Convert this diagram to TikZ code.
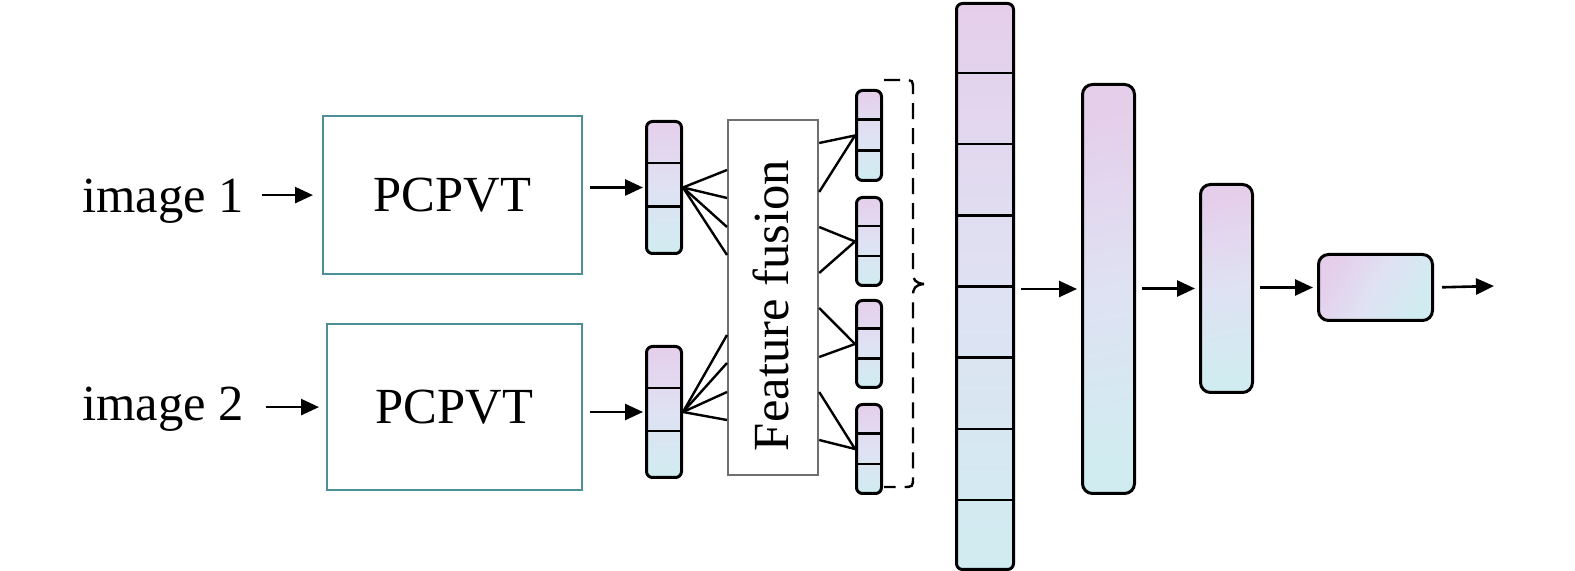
\documentclass[tikz,border=0pt]{standalone}
\usepackage{fontspec}
\setmainfont{Liberation Serif}
\usetikzlibrary{arrows.meta,calc}
\definecolor{pinkc}{RGB}{229,206,234}
\definecolor{midc}{RGB}{223,226,243}
\definecolor{cyanc}{RGB}{208,236,241}
\definecolor{tealc}{RGB}{78,142,150}
\definecolor{grayc}{RGB}{110,110,115}
\newcommand{\cellbar}[6]{%
  \node[vec, anchor=north west, minimum width=#4*0.5pt, minimum height=#5*0.5pt] (#1) at (#2,#3) {};
  \foreach \f in {#6} \draw[divl] ($(#1.north west)!\f!(#1.south west)$) -- ($(#1.north east)!\f!(#1.south east)$);
}
\begin{document}
\begin{tikzpicture}[x=0.5pt,y=-0.5pt,
  font=\fontsize{25.3}{30}\selectfont,
  vec/.style={draw=black, line width=1.5pt, rounded corners=3pt, inner sep=0pt,
    top color=pinkc, bottom color=cyanc, middle color=midc},
  bigvec/.style={vec, rounded corners=5pt, shading angle=12},
  divl/.style={line width=1.2pt, black},
  pcbox/.style={draw=tealc, line width=1.1pt, inner sep=0pt, anchor=north west},
  ffbox/.style={draw=grayc, line width=1.1pt, inner sep=0pt, anchor=north west},
  conn/.style={line width=1.2pt, black},
  arr/.style={line width=1.3pt, -{Triangle[length=9pt,width=8pt]}},
  brk/.style={line width=1.2pt, dash pattern=on 8pt off 4.5pt}]
\useasboundingbox (0,0) rectangle (1575,571);

% inputs
\node[anchor=base west, inner sep=0pt] (img1) at (82,213) {image 1};
\node[anchor=base west, inner sep=0pt] (img2) at (82,421) {image 2};
\node[pcbox, minimum width=259*0.5pt, minimum height=158*0.5pt] (b1) at (322,115) {PCPVT};
\node[pcbox, minimum width=255*0.5pt, minimum height=166*0.5pt] (b2) at (326,323) {PCPVT};
\draw[arr, shorten <=9pt, shorten >=4.5pt] (img1.east |- b1.west) -- (b1.west);
\draw[arr, shorten <=11pt, shorten >=3.5pt] (img2.east |- b2.west) -- (b2.west);

% encoder outputs
\cellbar{v1}{645}{120}{35}{132}{0.32,0.64}
\cellbar{v2}{645}{345}{35}{131}{0.32,0.64}
\draw[arr, shorten <=3.5pt, shorten >=1pt] (b1.east |- v1.west) -- (v1.west);
\draw[arr, shorten <=3.5pt, shorten >=1pt] (b2.east |- v2.west) -- (v2.west);

% feature fusion
\node[ffbox, minimum width=90*0.5pt, minimum height=355*0.5pt] (ff) at (727,119) {};
\node[rotate=90, inner sep=0pt] (fft) at ($(ff.center)+(-2,8)$) {Feature fusion};
\foreach \d in {51,79,108,136} \draw[conn] (v1.east) -- ($(ff.north west)+(0,\d)$);
\foreach \d in {216,244,273,301} \draw[conn] (v2.east) -- ($(ff.north west)+(0,\d)$);

% fused vectors
\cellbar{fa}{855}{89}{25}{90}{0.33,0.66}
\cellbar{fb}{855}{196}{25}{88}{0.33,0.66}
\cellbar{fc}{855}{299}{25}{87}{0.33,0.66}
\cellbar{fd}{855}{403}{25}{89}{0.33,0.66}
\foreach \d in {24,73} \draw[conn] ($(ff.north east)+(0,\d)$) -- (fa.west);
\foreach \d in {108,154} \draw[conn] ($(ff.north east)+(0,\d)$) -- (fb.west);
\foreach \d in {189,238} \draw[conn] ($(ff.north east)+(0,\d)$) -- (fc.west);
\foreach \d in {273,321} \draw[conn] ($(ff.north east)+(0,\d)$) -- (fd.west);

% dashed brace
\draw[brk] (884,80) -- (903,80) .. controls (913,80) .. (913,90) -- (913,272)
  .. controls (913,280) and (915,283) .. (924,284);
\draw[brk] (924,284) .. controls (915,285) and (913,288) .. (913,296) -- (913,477)
  .. controls (913,487) .. (903,487) -- (884,487);

% classifier columns
\cellbar{c1}{955}{2}{57}{566}{0.125,0.25,0.375,0.5,0.625,0.75,0.875}
\node[bigvec, anchor=north west, minimum width=52*0.5pt, minimum height=409*0.5pt] (c2) at (1081,83) {};
\node[bigvec, anchor=north west, minimum width=52*0.5pt, minimum height=208*0.5pt] (c3) at (1199,183) {};
\node[vec, rounded corners=5pt, shading angle=60, anchor=north west, minimum width=114*0.5pt, minimum height=66*0.5pt] (fin) at (1317,253) {};
\coordinate (out) at (1494,286);

\draw[arr, shorten <=3pt, shorten >=2pt] (c1.east |- c2.west) -- (c2.west);
\draw[arr, shorten <=3pt, shorten >=2pt] (c2.east |- c3.west) -- (c3.west);
\draw[arr, shorten <=3pt, shorten >=2pt] (c3.east |- fin.west) -- (fin.west);
\draw[arr, shorten <=4pt] (fin.east) -- (out);
\end{tikzpicture}
\end{document}
